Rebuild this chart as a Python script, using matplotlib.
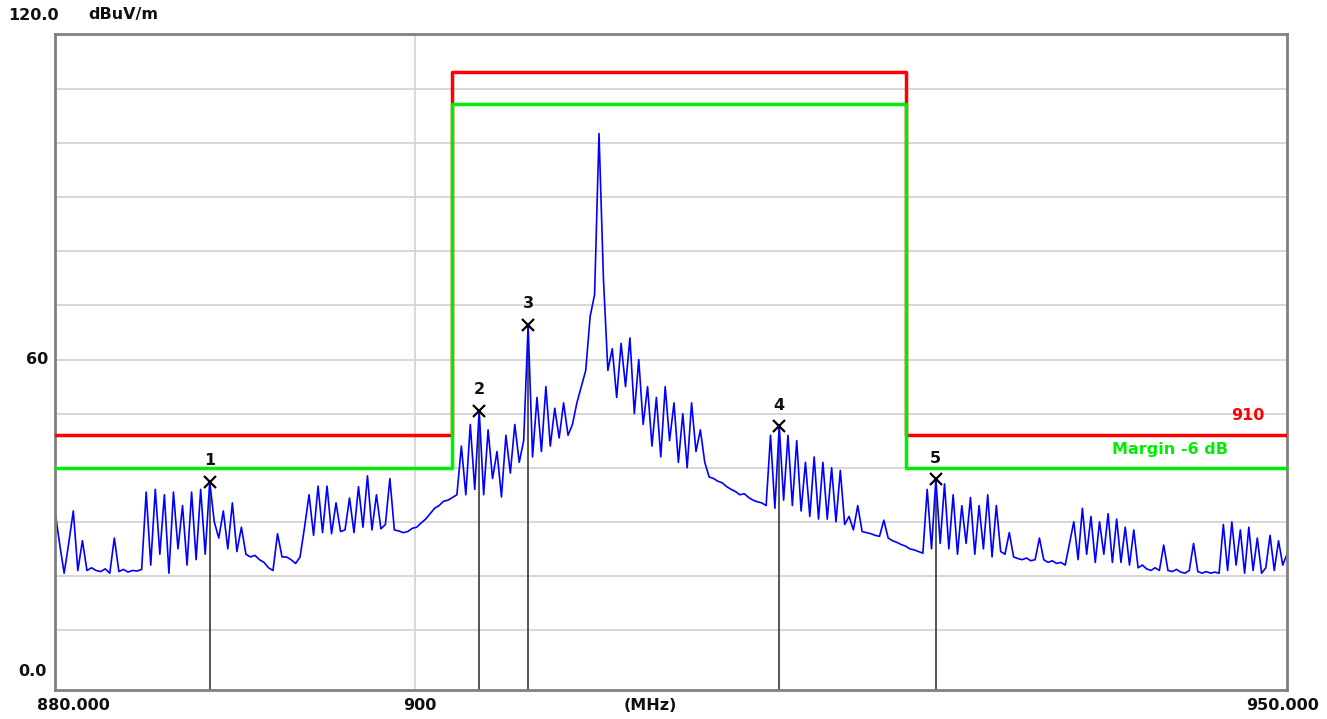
import numpy as np
import matplotlib
matplotlib.use('Agg')
import matplotlib.pyplot as plt
from matplotlib.ticker import NullLocator

# Sweep grid (MHz) and measured level (dBuV/m), one row per 5 MHz
freq_mhz = np.arange(880.0, 950.001, 0.25)
level_dbuv = [
    32, 26, 20.5, 26, 32, 21, 26.5, 21, 21.5, 21, 20.8, 21.3, 20.5, 27, 20.8, 21.2, 20.7, 21, 20.9, 21.2,      # 880
    35.5, 22, 36, 24, 35, 20.5, 35.5, 25, 33, 22, 35.5, 23, 36, 24, 37.4, 30, 27, 32, 25, 33.5,               # 885
    24.5, 29, 24, 23.5, 23.8, 23, 22.5, 21.5, 21, 27.8, 23.5, 23.5, 23, 22.3, 23.5, 29, 35, 27.5, 36.6, 28,   # 890
    36.6, 27.8, 33.5, 28.2, 28.5, 34.4, 28, 36.5, 29, 38.5, 28.5, 35, 28.7, 29.5, 38, 28.5, 28.3, 28, 28.2, 28.8,  # 895
    29, 29.8, 30.5, 31.5, 32.5, 33, 33.8, 34, 34.5, 35, 44, 35, 48, 36, 50.5, 35, 47, 38, 43, 34.6,           # 900
    46, 39, 48, 41, 45, 66.4, 42, 53, 43, 55, 44, 51, 45.5, 52, 46, 48, 52, 55, 58, 68,                       # 905
    72, 101.8, 75, 58, 62, 53, 63, 55, 64, 50, 60, 48, 55, 44, 53, 42, 55, 45, 52, 41,                        # 910
    50, 40, 52, 43, 47, 41, 38.3, 38, 37.5, 37.2, 36.5, 36, 35.6, 35, 35.2, 34.5, 34, 33.7, 33.5, 33,         # 915
    46, 32.5, 47.7, 34, 46, 33, 45, 32, 41, 31, 42, 30.5, 41, 30.5, 40, 30, 39.5, 29.5, 31, 28.5,             # 920
    33, 28.2, 28, 27.8, 27.5, 27.3, 30.3, 27, 26.5, 26.2, 25.8, 25.5, 25, 24.8, 24.5, 24.2, 36, 25, 37.9, 26, # 925
    37, 25, 35, 24, 33, 26, 34.5, 24, 33, 25, 35, 23.5, 33, 24.5, 24, 28, 23.5, 23.2, 23, 23.3,               # 930
    22.8, 23, 27, 23, 22.5, 22.8, 22.3, 22.5, 22, 26, 30, 23, 32.5, 24, 31, 22.5, 30, 24, 31.5, 22.5,         # 935
    30.5, 22.5, 29, 22, 28.5, 21.5, 22, 21.3, 21, 21.5, 21, 25.7, 21, 20.8, 21.2, 20.7, 20.5, 21, 26, 20.8,   # 940
    20.5, 20.8, 20.5, 20.7, 20.5, 29.5, 21, 30, 22, 28.5, 20.5, 29, 21, 27, 20.5, 21.5, 27.5, 21, 26.5, 22, 24,  # 945
]

# Limit line "910" and the -6 dB margin line
limit_freq = [880, 902, 902, 927.8, 927.8, 950]
limit_level = [46, 46, 113.2, 113.2, 46, 46]
margin_level = [40, 40, 107.2, 107.2, 40, 40]

# Peak markers
marker_ids = ['1', '2', '3', '4', '5']
marker_freq = [888.5, 903.5, 906.25, 920.5, 929.5]
marker_level = [37.4, 50.5, 66.4, 47.7, 37.9]

W, H = 1327, 719
fig = plt.figure(figsize=(W / 100, H / 100), dpi=100)
ax = fig.add_axes([55 / W, 1 - 690 / H, (1287 - 55) / W, (690 - 34) / H])

ax.set_xscale('log')
ax.set_xlim(880, 950)
ax.set_ylim(-1.1, 120.2)

# grid: every 10 dB plus 900 MHz
for y in range(10, 120, 10):
    ax.axhline(y, color='#d4d4d4', lw=1.3, zorder=0)
ax.axvline(899.9, color='#d4d4d4', lw=1.3, zorder=0)

# marker drop lines
ax.vlines(marker_freq, -1.1, marker_level, color='#383838', lw=1.2, zorder=1)

ax.plot(freq_mhz, level_dbuv, color='#0000ff', lw=1.2, zorder=2)
ax.plot(limit_freq, limit_level, color='#ff0000', lw=2.5, zorder=3)
ax.plot(limit_freq, margin_level, color='#00ee00', lw=2.5, zorder=4)

ax.plot(marker_freq, marker_level, 'x', color='black', ms=9, mew=1.6, zorder=5)
for mid, f, lv in zip(marker_ids, marker_freq, marker_level):
    ax.annotate(mid, (f, lv), xytext=(0, 21), textcoords='offset pixels',
                ha='center', va='center', fontsize=11.5, fontweight='bold', color='#101010')

ax.text(0.982, 0.4177, '910', transform=ax.transAxes, ha='right', va='center',
        color='#ff0000', fontsize=11.5, fontweight='bold')
ax.text(0.952, 0.366, 'Margin -6 dB', transform=ax.transAxes, ha='right', va='center',
        color='#00ee00', fontsize=11.5, fontweight='bold')

ax.xaxis.set_major_locator(NullLocator())
ax.xaxis.set_minor_locator(NullLocator())
ax.yaxis.set_major_locator(NullLocator())
ax.yaxis.set_minor_locator(NullLocator())
for s in ax.spines.values():
    s.set_color('#808080')
    s.set_linewidth(2)

lab = dict(fontsize=11.5, fontweight='bold', color='#101010', va='center')
fig.text(8 / W, 1 - 15 / H, '120.0', ha='left', **lab)
fig.text(88 / W, 1 - 15 / H, 'dBuV/m', ha='left', **lab)
fig.text(48 / W, 1 - 360 / H, '60', ha='right', **lab)
fig.text(47 / W, 1 - 672 / H, '0.0', ha='right', **lab)
fig.text(37 / W, 1 - 706 / H, '880.000', ha='left', **lab)
fig.text(420 / W, 1 - 706 / H, '900', ha='center', **lab)
fig.text(650 / W, 1 - 706 / H, '(MHz)', ha='center', **lab)
fig.text(1319 / W, 1 - 706 / H, '950.000', ha='right', **lab)

fig.savefig('out.png', dpi=100)
